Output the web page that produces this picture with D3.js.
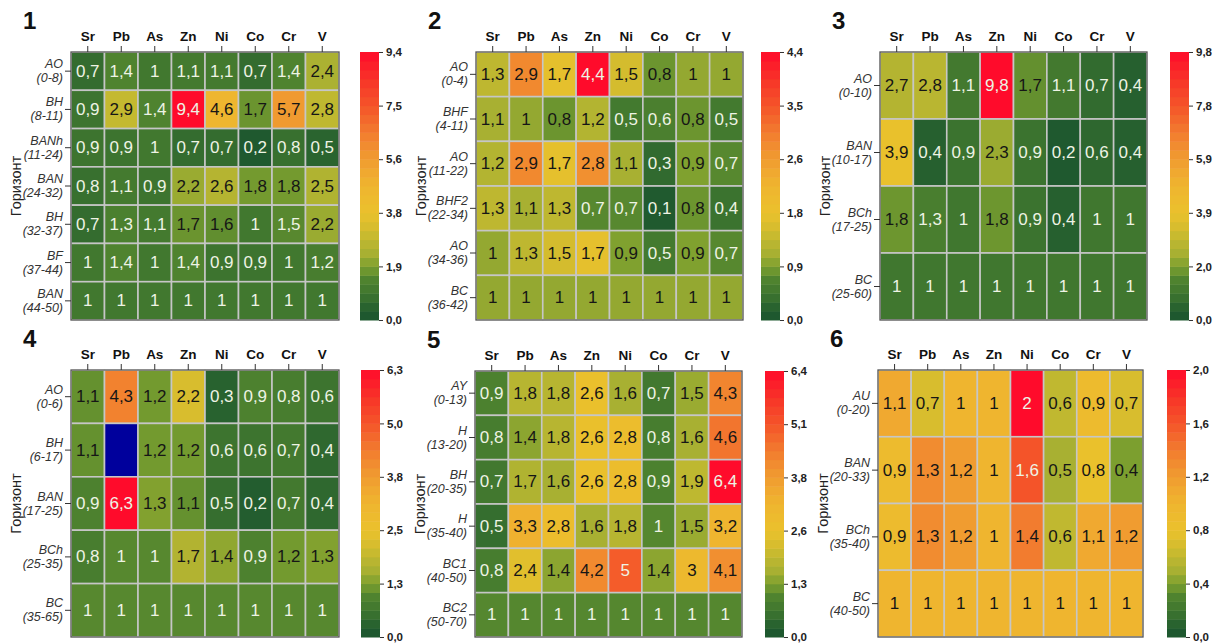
<!DOCTYPE html>
<html>
<head>
<meta charset="utf-8">
<script src="https://cdn.jsdelivr.net/npm/d3@7"></script>
<style>
  body { margin: 0; background: #fff; }
  svg { display: block; font-family: Arial, "Liberation Sans", sans-serif; }
  .axis path { display: none; }
  .axis line { stroke: #333; }
  .xlab text { font-weight: bold; font-size: 13.5px; fill: #111; }
  .cb text { font-weight: bold; font-size: 11.5px; fill: #222; }
</style>
</head>
<body>
<div id="chart"></div>
<script>
// elements across the top (same for all six profiles)
const elements = ["Sr", "Pb", "As", "Zn", "Ni", "Co", "Cr", "V"];

// profile 1
const rows1 = [["AO","(0-8)"],["BH","(8-11)"],["BANh","(11-24)"],["BAN","(24-32)"],["BH","(32-37)"],["BF","(37-44)"],["BAN","(44-50)"]];
const vals1 = [
  [0.7,1.4,1,1.1,1.1,0.7,1.4,2.4],
  [0.9,2.9,1.4,9.4,4.6,1.7,5.7,2.8],
  [0.9,0.9,1,0.7,0.7,0.2,0.8,0.5],
  [0.8,1.1,0.9,2.2,2.6,1.8,1.8,2.5],
  [0.7,1.3,1.1,1.7,1.6,1,1.5,2.2],
  [1,1.4,1,1.4,0.9,0.9,1,1.2],
  [1,1,1,1,1,1,1,1]
];
const max1 = 9.4;

// profile 2
const rows2 = [["AO","(0-4)"],["BHF","(4-11)"],["AO","(11-22)"],["BHF2","(22-34)"],["AO","(34-36)"],["BC","(36-42)"]];
const vals2 = [
  [1.3,2.9,1.7,4.4,1.5,0.8,1,1],
  [1.1,1,0.8,1.2,0.5,0.6,0.8,0.5],
  [1.2,2.9,1.7,2.8,1.1,0.3,0.9,0.7],
  [1.3,1.1,1.3,0.7,0.7,0.1,0.8,0.4],
  [1,1.3,1.5,1.7,0.9,0.5,0.9,0.7],
  [1,1,1,1,1,1,1,1]
];
const max2 = 4.4;

// profile 3
const rows3 = [["AO","(0-10)"],["BAN","(10-17)"],["BCh","(17-25)"],["BC","(25-60)"]];
const vals3 = [
  [2.7,2.8,1.1,9.8,1.7,1.1,0.7,0.4],
  [3.9,0.4,0.9,2.3,0.9,0.2,0.6,0.4],
  [1.8,1.3,1,1.8,0.9,0.4,1,1],
  [1,1,1,1,1,1,1,1]
];
const max3 = 9.8;

// profile 4 (null = no data, drawn blue)
const rows4 = [["AO","(0-6)"],["BH","(6-17)"],["BAN","(17-25)"],["BCh","(25-35)"],["BC","(35-65)"]];
const vals4 = [
  [1.1,4.3,1.2,2.2,0.3,0.9,0.8,0.6],
  [1.1,null,1.2,1.2,0.6,0.6,0.7,0.4],
  [0.9,6.3,1.3,1.1,0.5,0.2,0.7,0.4],
  [0.8,1,1,1.7,1.4,0.9,1.2,1.3],
  [1,1,1,1,1,1,1,1]
];
const max4 = 6.3;

// profile 5
const rows5 = [["AY","(0-13)"],["H","(13-20)"],["BH","(20-35)"],["H","(35-40)"],["BC1","(40-50)"],["BC2","(50-70)"]];
const vals5 = [
  [0.9,1.8,1.8,2.6,1.6,0.7,1.5,4.3],
  [0.8,1.4,1.8,2.6,2.8,0.8,1.6,4.6],
  [0.7,1.7,1.6,2.6,2.8,0.9,1.9,6.4],
  [0.5,3.3,2.8,1.6,1.8,1,1.5,3.2],
  [0.8,2.4,1.4,4.2,5,1.4,3,4.1],
  [1,1,1,1,1,1,1,1]
];
const max5 = 6.4;

// profile 6
const rows6 = [["AU","(0-20)"],["BAN","(20-33)"],["BCh","(35-40)"],["BC","(40-50)"]];
const vals6 = [
  [1.1,0.7,1,1,2,0.6,0.9,0.7],
  [0.9,1.3,1.2,1,1.6,0.5,0.8,0.4],
  [0.9,1.3,1.2,1,1.4,0.6,1.1,1.2],
  [1,1,1,1,1,1,1,1]
];
const max6 = 2.0;

// green -> yellow -> red ramp, on 0..1
const rampStops = [0, 0.05, 0.1, 0.15, 0.2, 0.25, 0.3, 0.35, 0.4, 0.5, 0.6, 0.7, 0.8, 0.9, 1];
const rampColors = ["#18522f","#29632f","#3f762f","#4f832f","#7c9f2f","#a8b032","#c0b830",
                    "#d8bd2e","#eac12c","#efb52f","#f09c30","#f27c2f","#f45429","#f83328","#ff0b2b"];
const ramp = d3.scaleLinear().domain(rampStops).range(rampColors).clamp(true);

const fmt = v => d3.format(".1f")(v).replace(".", ",");
const fmtCell = v => String(v).replace(".", ",");

const svg = d3.select("#chart").append("svg")
    .attr("width", 1216)
    .attr("height", 643);

function drawPanel(num, rows, vals, vmax, pos) {
  const w = pos.w, h = pos.h;
  const g = svg.append("g").attr("transform", "translate(" + pos.x + "," + pos.y + ")");

  const x = d3.scaleBand().domain(elements).range([0, w]);
  const y = d3.scaleBand().domain(d3.range(rows.length)).range([0, h]);

  const cells = [];
  vals.forEach(function(r, i) {
    r.forEach(function(v, j) { cells.push({row: i, col: elements[j], v: v}); });
  });

  g.selectAll(".cell")
    .data(cells)
    .enter().append("rect")
      .attr("class", "cell")
      .attr("x", d => x(d.col))
      .attr("y", d => y(d.row))
      .attr("width", x.bandwidth())
      .attr("height", y.bandwidth())
      .attr("fill", d => d.v == null ? "#00009c" : ramp(d.v / vmax))
      .attr("stroke", "#c6c6c6")
      .attr("stroke-width", 1.6);

  g.selectAll(".val")
    .data(cells.filter(d => d.v != null))
    .enter().append("text")
      .attr("x", d => x(d.col) + x.bandwidth() / 2)
      .attr("y", d => y(d.row) + y.bandwidth() / 2)
      .attr("text-anchor", "middle")
      .attr("dominant-baseline", "central")
      .style("font-size", "17px")
      .attr("fill", function(d) {
        const t = d.v / vmax;
        return (t < 0.165 || t > 0.75) ? "#eef3e4" : "#161616";
      })
      .text(d => fmtCell(d.v));

  // frame
  g.append("rect")
    .attr("width", w).attr("height", h)
    .attr("fill", "none")
    .attr("stroke", "#4a4a4a")
    .attr("stroke-width", 1);

  // top axis with element names
  g.append("g")
    .attr("class", "axis xlab")
    .call(d3.axisTop(x).tickSize(6).tickPadding(5));

  // left axis: horizon + depth in two lines
  g.append("g")
    .attr("class", "axis")
    .call(d3.axisLeft(y).tickSize(6).tickFormat(""));
  rows.forEach(function(r, i) {
    const cy = y(i) + y.bandwidth() / 2;
    const t = g.append("text")
      .attr("text-anchor", "end")
      .style("font-style", "italic")
      .style("font-size", "12.5px")
      .attr("fill", "#333");
    t.append("tspan").attr("x", -8).attr("y", cy - 3).text(r[0]);
    t.append("tspan").attr("x", -8).attr("y", cy + 11).text(r[1]);
  });

  g.append("text")
    .attr("transform", "translate(-50," + (h / 2) + ") rotate(-90)")
    .attr("text-anchor", "middle")
    .style("font-size", "14.5px")
    .attr("fill", "#222")
    .text("Горизонт");

  // panel number
  g.append("text")
    .attr("x", -48)
    .attr("y", -23)
    .style("font-size", "24px")
    .style("font-weight", "bold")
    .attr("fill", "#111")
    .text(num);

  // colour bar, stepped like the original
  const cb = svg.append("g").attr("transform", "translate(" + (pos.x + w + pos.gap) + "," + pos.y + ")");
  const cbW = 19;
  const cy = d3.scaleLinear().domain([0, vmax]).range([h, 0]);
  const nBands = 30;
  cb.selectAll("rect")
    .data(d3.range(nBands))
    .enter().append("rect")
      .attr("x", 0)
      .attr("y", d => cy(vmax * (d + 1) / nBands))
      .attr("width", cbW)
      .attr("height", d => cy(vmax * d / nBands) - cy(vmax * (d + 1) / nBands) + 0.5)
      .attr("fill", d => ramp((d + 0.5) / nBands));

  cb.append("g")
    .attr("class", "axis cb")
    .attr("transform", "translate(" + cbW + ",0)")
    .call(d3.axisRight(cy)
      .tickValues(d3.range(6).map(i => vmax * i / 5))
      .tickSize(4)
      .tickPadding(3)
      .tickFormat(fmt));
}

drawPanel("1", rows1, vals1, max1, {x: 71,  y: 52,  w: 268, h: 268, gap: 21});
drawPanel("2", rows2, vals2, max2, {x: 476, y: 52,  w: 267, h: 268, gap: 18});
drawPanel("3", rows3, vals3, max3, {x: 880, y: 52,  w: 267, h: 268, gap: 23});
drawPanel("4", rows4, vals4, max4, {x: 71,  y: 370, w: 268, h: 267, gap: 22});
drawPanel("5", rows5, vals5, max5, {x: 475, y: 371, w: 267, h: 266, gap: 23});
drawPanel("6", rows6, vals6, max6, {x: 878, y: 370, w: 265, h: 267, gap: 24});
</script>
</body>
</html>
